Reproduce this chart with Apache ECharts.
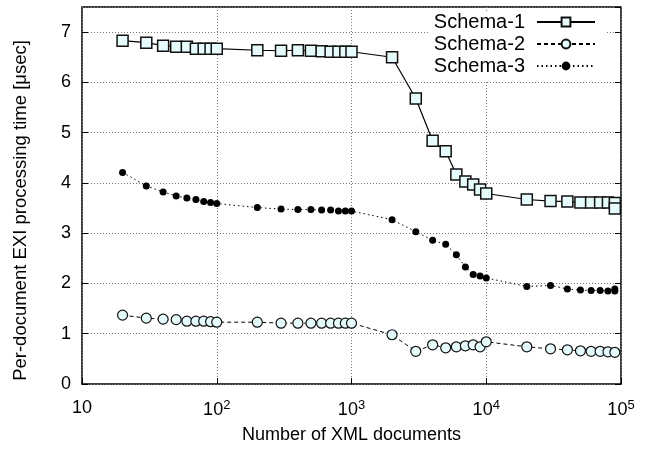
<!DOCTYPE html>
<html>
<head>
<meta charset="utf-8">
<script src="https://cdn.jsdelivr.net/npm/echarts@6/dist/echarts.min.js"></script>
<style>
html,body{margin:0;padding:0;background:#fff;}
#chart{width:655px;height:449px;}
</style>
</head>
<body>
<div id="chart"></div>
<script>
const xs1 = [20,30,40,50,60,70,80,90,100,200,300,400,500,600,700,800,900,1000,2000,3000,4000,5000,6000,7000,8000,9000,10000,20000,30000,40000,50000,60000,70000,80000,90000,90000];
const schema1 = [6.83,6.79,6.73,6.71,6.71,6.67,6.67,6.67,6.67,6.64,6.63,6.64,6.63,6.62,6.61,6.61,6.61,6.61,6.50,5.68,4.84,4.63,4.17,4.03,3.97,3.87,3.79,3.67,3.64,3.63,3.61,3.61,3.61,3.61,3.60,3.49];
const xs2 = [20,30,40,50,60,70,80,90,100,200,300,400,500,600,700,800,900,1000,2000,3000,4000,5000,6000,7000,8000,9000,10000,20000,30000,40000,50000,60000,70000,80000,90000];
const schema2 = [1.37,1.31,1.29,1.28,1.25,1.25,1.25,1.24,1.23,1.23,1.21,1.21,1.21,1.21,1.21,1.21,1.21,1.21,0.98,0.65,0.78,0.72,0.74,0.76,0.78,0.74,0.84,0.74,0.70,0.68,0.66,0.65,0.65,0.64,0.63];
const xs3 = [20,30,40,50,60,70,80,90,100,200,300,400,500,600,700,800,900,1000,2000,3000,4000,5000,6000,7000,8000,9000,10000,20000,30000,40000,50000,60000,70000,80000,90000,90000];
const schema3 = [4.21,3.94,3.82,3.74,3.70,3.67,3.63,3.61,3.59,3.51,3.48,3.47,3.47,3.46,3.46,3.44,3.44,3.44,3.27,3.03,2.86,2.78,2.57,2.33,2.18,2.15,2.11,1.94,1.96,1.89,1.87,1.86,1.86,1.85,1.85,1.89];
const seriesNames = ['Schema-1','Schema-2','Schema-3'];
const yTicks = [0,1,2,3,4,5,6,7];

const pairs = (xs, ys) => xs.map((x, i) => [x, ys[i]]);
const FONT = 'Liberation Sans, Arial, Helvetica, sans-serif';

const chart = echarts.init(document.getElementById('chart'));
chart.setOption({
  animation: false,
  backgroundColor: '#fff',
  textStyle: {fontFamily: FONT, color: '#000'},
  grid: {left: 82, right: 34, top: 7, bottom: 64, show: true, borderColor: '#000', borderWidth: 1.5, backgroundColor: 'transparent'},
  legend: {
    data: seriesNames,
    orient: 'vertical',
    right: 49,
    top: 11,
    align: 'right',
    itemWidth: 58,
    itemHeight: 11,
    itemGap: 2,
    backgroundColor: '#fff',
    padding: [1, 10, 4, 6],
    textStyle: {fontFamily: FONT, fontSize: 20, color: '#000', padding: [0, 7, 0, 0]}
  },
  xAxis: {
    type: 'log', logBase: 10, min: 10, max: 100000,
    name: 'Number of XML documents', nameLocation: 'middle', nameGap: 42,
    nameTextStyle: {fontFamily: FONT, fontSize: 18, color: '#000'},
    axisLine: {show: false},
    axisTick: {show: true, inside: true, length: 6, lineStyle: {color: '#000', width: 1}},
    minorTick: {show: false},
    splitLine: {show: true, lineStyle: {color: '#777', type: [1, 2], width: 1}},
    axisLabel: {
      margin: 15,
      fontFamily: FONT, fontSize: 18, color: '#000',
      formatter: function (v) {
        const e = Math.round(Math.log10(v));
        if (e === 1) return '10';
        return '10{sup|' + e + '}';
      },
      rich: {sup: {fontFamily: FONT, fontSize: 13, color: '#000', verticalAlign: 'top', padding: [0, 0, 10, 0]}}
    }
  },
  yAxis: [{
    type: 'value', min: 0, max: 7.5, interval: 1,
    name: 'Per-document EXI processing time [μsec]', nameLocation: 'middle', nameGap: 52,
    nameTextStyle: {fontFamily: FONT, fontSize: 18.5, color: '#000', padding: [0, 30, 0, 0]},
    axisLine: {show: false},
    axisTick: {show: true, inside: true, length: 6, lineStyle: {color: '#000'}},
    splitLine: {show: true, lineStyle: {color: '#777', type: [1, 2], width: 1}},
    axisLabel: {
      margin: 11, fontFamily: FONT, fontSize: 18, color: '#000', showMaxLabel: false,
      formatter: function (v) { return yTicks.indexOf(v) >= 0 ? String(v) : ''; }
    }
  }, {
    type: 'value', min: 0, max: 7.5, interval: 1, position: 'right',
    axisLine: {show: false},
    axisTick: {show: true, inside: true, length: 6, lineStyle: {color: '#000'}},
    splitLine: {show: false},
    axisLabel: {show: false}
  }],
  series: [
    {
      name: seriesNames[0], type: 'line', data: pairs(xs1, schema1),
      symbol: 'rect', symbolSize: 11,
      itemStyle: {color: '#e6fbfb', borderColor: '#111', borderWidth: 1.5},
      lineStyle: {color: '#000', width: 1.2, type: 'solid'},
      z: 5
    },
    {
      name: seriesNames[1], type: 'line', data: pairs(xs2, schema2),
      symbol: 'circle', symbolSize: 10,
      itemStyle: {color: '#e6fbfb', borderColor: '#111', borderWidth: 1.2},
      lineStyle: {color: '#000', width: 1, type: [4, 3]},
      z: 4
    },
    {
      name: seriesNames[2], type: 'line', data: pairs(xs3, schema3),
      symbol: 'circle', symbolSize: 7,
      itemStyle: {color: '#000', borderColor: '#000', borderWidth: 0},
      lineStyle: {color: '#000', width: 1, type: [1.5, 3]},
      z: 3
    }
  ]
});
</script>
</body>
</html>
